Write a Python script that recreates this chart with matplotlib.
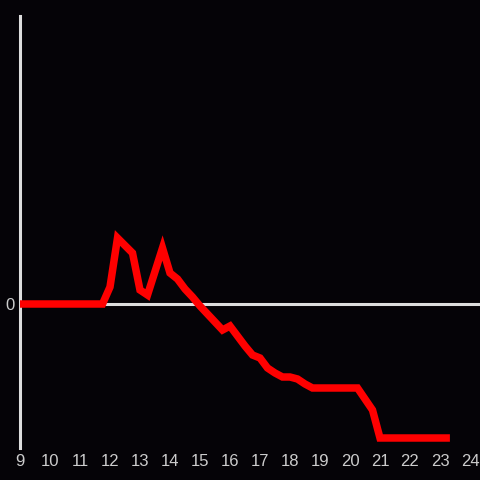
import numpy as np
import matplotlib
matplotlib.use('Agg')
import matplotlib.pyplot as plt

# hour of day, value
hours = [9.0, 11.75, 12.0, 12.25, 12.75, 13.0, 13.25, 13.75, 14.0, 14.25,
         14.5, 14.75, 15.0, 15.25, 15.5, 15.75, 16.0, 16.25, 16.5, 16.75,
         17.0, 17.25, 17.5, 17.75, 18.0, 18.25, 18.5, 18.75, 19.0, 19.5,
         20.0, 20.25, 20.5, 20.75, 21.0, 21.5, 22.0, 22.5, 23.0, 23.33]
values = [0.0, 0.0, 1.7, 6.6, 5.1, 1.4, 0.9, 5.6, 3.1, 2.5,
          1.5, 0.7, -0.2, -1.0, -1.8, -2.6, -2.2, -3.2, -4.2, -5.1,
          -5.4, -6.4, -6.9, -7.3, -7.3, -7.5, -8.0, -8.4, -8.4, -8.4,
          -8.4, -8.4, -9.5, -10.6, -13.4, -13.4, -13.4, -13.4, -13.4, -13.4]
xticks = list(range(9, 25))

bg = '#050307'
fig = plt.figure(figsize=(4.8, 4.8), dpi=100, facecolor=bg)
ax = fig.add_axes([20/480, 32/480, 460/480, 432/480], facecolor=bg)

ax.axhline(0, color='#dddddd', lw=2.2, zorder=1)
ax.plot(hours, values, color='#ff0000', lw=5.4, solid_capstyle='butt',
        solid_joinstyle='miter', zorder=3)

ax.set_xlim(9, 9 + 460/30)
ax.set_ylim(-14.4, 28.8)
ax.set_xticks(xticks)
ax.set_yticks([0])
ax.tick_params(length=0, colors='#cccccc', labelsize=12, pad=4)
for lab in ax.get_xticklabels() + ax.get_yticklabels():
    lab.set_family(['Liberation Sans', 'DejaVu Sans'])

for s in ['top', 'right', 'bottom']:
    ax.spines[s].set_visible(False)
ax.spines['left'].set_color('#dddddd')
ax.spines['left'].set_linewidth(2.2)

fig.savefig('out.png', dpi=100, facecolor=bg)
